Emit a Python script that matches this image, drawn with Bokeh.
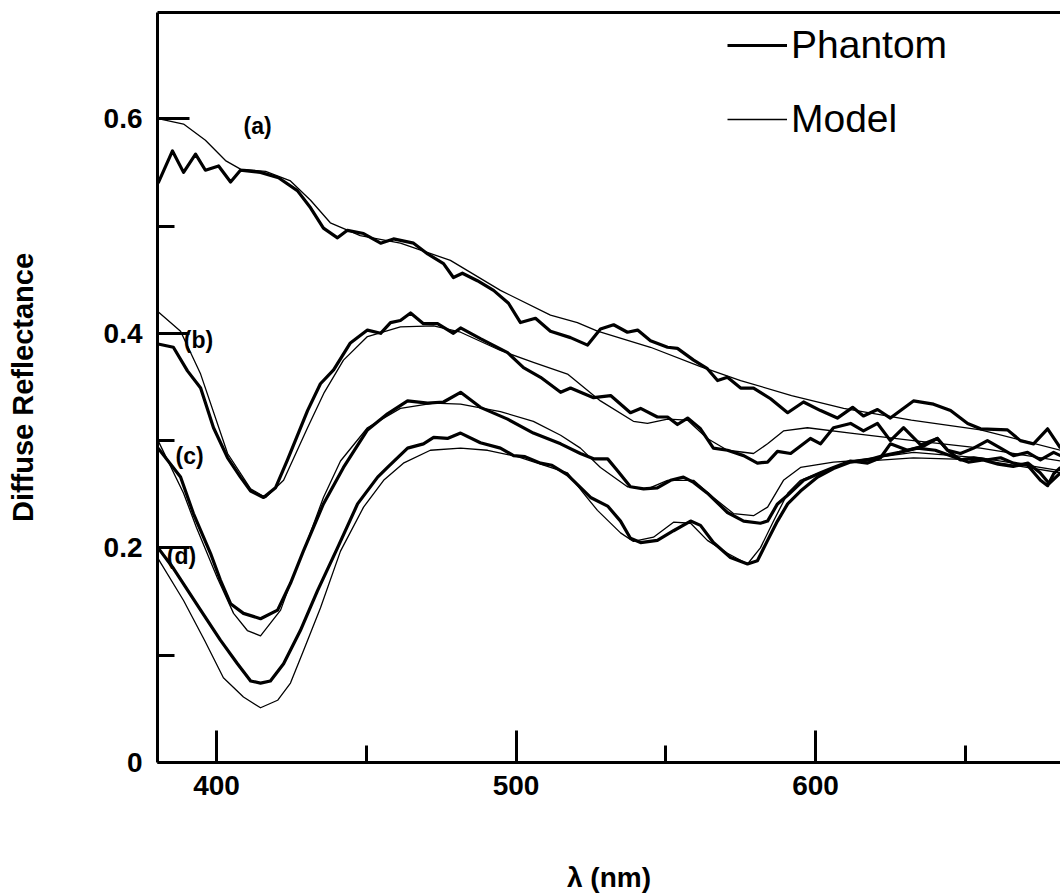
from bokeh.plotting import figure
from bokeh.models import Range1d, FixedTicker, LinearAxis, Legend, LegendItem
from bokeh.core.properties import value
from bokeh.embed import file_html
from bokeh.resources import INLINE

# ---------------- data (wavelength nm, diffuse reflectance) ----------------
phantom_a = [(380.5, 0.540), (385.3, 0.570), (389.0, 0.550), (393.0, 0.567), (396.3, 0.552),
             (400.7, 0.556), (404.7, 0.541), (408.0, 0.552), (414.7, 0.550), (420.7, 0.545),
             (427.0, 0.533), (431.4, 0.517), (435.7, 0.498), (440.4, 0.489), (443.7, 0.496),
             (449.1, 0.493), (454.8, 0.484), (459.1, 0.488), (465.8, 0.484), (470.5, 0.474),
             (475.8, 0.465), (479.1, 0.452), (482.1, 0.456), (487.1, 0.449), (492.5, 0.440),
             (497.5, 0.428), (501.5, 0.410), (506.5, 0.414), (511.5, 0.402), (518.2, 0.396),
             (523.9, 0.389), (528.2, 0.404), (532.6, 0.408), (537.2, 0.401), (540.6, 0.403),
             (544.9, 0.393), (550.6, 0.387), (553.9, 0.386), (559.3, 0.375), (563.9, 0.367),
             (567.3, 0.356), (570.6, 0.359), (575.0, 0.349), (579.3, 0.349), (585.0, 0.339),
             (590.7, 0.326), (596.0, 0.336), (601.7, 0.328), (607.3, 0.321), (612.4, 0.331),
             (616.0, 0.323), (620.7, 0.329), (625.0, 0.321), (632.7, 0.337), (639.4, 0.334),
             (645.1, 0.328), (650.8, 0.316), (655.1, 0.311), (664.1, 0.310), (668.4, 0.300),
             (672.8, 0.297), (677.5, 0.311), (681.8, 0.293)]

model_a = [(380.5, 0.600), (389.0, 0.595), (396.3, 0.580), (403.0, 0.561), (408.0, 0.553),
           (416.4, 0.551), (424.7, 0.542), (431.4, 0.524), (438.0, 0.503), (448.0, 0.491),
           (461.4, 0.484), (478.1, 0.468), (494.8, 0.440), (511.5, 0.417), (520.5, 0.410),
           (527.2, 0.402), (544.9, 0.387), (561.6, 0.369), (575.0, 0.356), (592.0, 0.342),
           (609.4, 0.330), (632.0, 0.319), (655.1, 0.310), (681.8, 0.291)]

phantom_b = [(380.5, 0.390), (385.6, 0.387), (390.3, 0.365), (394.7, 0.349), (399.0, 0.312),
             (403.7, 0.284), (408.0, 0.266), (411.4, 0.253), (415.7, 0.247), (419.7, 0.256),
             (423.7, 0.282), (430.4, 0.328), (434.7, 0.353), (439.1, 0.366), (444.7, 0.391),
             (450.4, 0.403), (454.8, 0.400), (458.1, 0.410), (461.4, 0.412), (464.8, 0.419),
             (469.1, 0.409), (473.8, 0.409), (479.1, 0.400), (481.5, 0.405), (488.1, 0.395),
             (497.2, 0.382), (502.5, 0.368), (508.2, 0.359), (514.9, 0.345), (518.2, 0.349),
             (525.9, 0.340), (531.6, 0.342), (538.2, 0.326), (541.6, 0.330), (547.2, 0.322),
             (550.6, 0.322), (553.9, 0.315), (557.3, 0.321), (561.6, 0.311), (565.9, 0.293),
             (570.6, 0.291), (576.0, 0.286), (580.6, 0.279), (584.0, 0.280), (587.3, 0.290),
             (591.7, 0.288), (598.3, 0.302), (601.7, 0.297), (606.0, 0.312), (611.7, 0.316),
             (616.0, 0.309), (620.7, 0.316), (625.0, 0.300), (629.4, 0.312), (635.1, 0.296),
             (640.7, 0.302), (644.1, 0.291), (648.4, 0.288), (652.8, 0.293), (657.4, 0.300),
             (661.8, 0.293), (666.1, 0.286), (670.8, 0.289), (675.1, 0.282), (679.5, 0.289),
             (681.8, 0.286)]

model_b = [(380.5, 0.420), (388.0, 0.402), (394.7, 0.362), (403.7, 0.288), (411.4, 0.255),
           (416.4, 0.247), (422.4, 0.263), (430.4, 0.312), (436.0, 0.345), (442.4, 0.375),
           (450.4, 0.397), (461.4, 0.406), (472.5, 0.407), (481.5, 0.401), (494.8, 0.384),
           (505.8, 0.373), (517.2, 0.362), (528.2, 0.337), (539.2, 0.318), (543.9, 0.316),
           (550.6, 0.320), (557.3, 0.319), (563.9, 0.302), (570.6, 0.291), (579.3, 0.288),
           (584.0, 0.297), (589.3, 0.309), (597.3, 0.312), (611.7, 0.307), (632.7, 0.300),
           (655.1, 0.293), (681.8, 0.281)]

phantom_c = [(380.5, 0.293), (388.0, 0.266), (392.3, 0.232), (398.0, 0.195), (401.3, 0.170),
             (404.7, 0.148), (409.0, 0.139), (414.7, 0.134), (420.4, 0.142), (424.7, 0.167),
             (429.0, 0.197), (435.7, 0.241), (442.4, 0.275), (450.4, 0.310), (457.1, 0.325),
             (463.8, 0.337), (470.5, 0.335), (475.8, 0.336), (481.5, 0.345), (488.1, 0.331),
             (497.2, 0.320), (505.8, 0.307), (514.9, 0.297), (521.5, 0.288), (525.9, 0.283),
             (530.6, 0.283), (533.9, 0.272), (538.2, 0.257), (542.6, 0.255), (547.2, 0.256),
             (551.6, 0.263), (555.9, 0.266), (559.3, 0.261), (563.9, 0.251), (570.6, 0.233),
             (576.0, 0.225), (581.6, 0.223), (584.0, 0.225), (587.3, 0.241), (590.7, 0.249),
             (596.0, 0.263), (601.7, 0.270), (606.0, 0.275), (611.7, 0.281), (617.4, 0.279),
             (621.7, 0.284), (625.0, 0.297), (630.7, 0.291), (636.1, 0.295), (640.7, 0.302),
             (644.1, 0.291), (648.4, 0.282), (652.8, 0.284), (657.4, 0.282), (661.8, 0.284),
             (666.1, 0.279), (670.8, 0.277), (675.1, 0.263), (677.5, 0.258), (679.5, 0.269),
             (681.8, 0.275)]

model_c = [(380.5, 0.300), (389.0, 0.251), (393.3, 0.219), (400.3, 0.172), (405.7, 0.139),
           (410.3, 0.123), (414.7, 0.118), (421.4, 0.142), (424.7, 0.167), (430.4, 0.207),
           (435.7, 0.247), (441.4, 0.281), (450.4, 0.312), (461.4, 0.330), (472.5, 0.335),
           (481.5, 0.334), (494.8, 0.327), (505.8, 0.318), (514.9, 0.305), (521.5, 0.293),
           (528.2, 0.275), (537.2, 0.257), (543.9, 0.255), (550.6, 0.263), (559.3, 0.263),
           (565.9, 0.247), (572.6, 0.232), (579.3, 0.230), (584.0, 0.238), (589.3, 0.263),
           (595.0, 0.275), (606.0, 0.280), (611.7, 0.281), (632.7, 0.289), (655.1, 0.284),
           (681.8, 0.272)]

phantom_d = [(380.5, 0.200), (385.6, 0.181), (394.7, 0.142), (401.3, 0.114), (407.0, 0.092),
             (411.4, 0.076), (414.7, 0.074), (418.0, 0.076), (422.4, 0.092), (428.0, 0.123),
             (433.7, 0.160), (440.4, 0.200), (447.1, 0.241), (453.8, 0.266), (457.1, 0.275),
             (463.8, 0.293), (469.1, 0.297), (472.5, 0.303), (477.1, 0.302), (481.5, 0.307),
             (488.1, 0.298), (494.8, 0.293), (499.2, 0.286), (503.0, 0.285), (508.2, 0.279),
             (512.0, 0.277), (517.2, 0.268), (524.9, 0.247), (530.6, 0.239), (534.9, 0.225),
             (538.2, 0.209), (541.6, 0.205), (547.2, 0.207), (552.6, 0.216), (558.3, 0.225),
             (561.6, 0.221), (565.9, 0.205), (571.6, 0.191), (577.3, 0.185), (580.6, 0.188),
             (584.0, 0.207), (587.3, 0.225), (590.7, 0.241), (595.0, 0.253), (600.7, 0.266),
             (606.0, 0.274), (611.7, 0.280), (617.4, 0.282), (622.7, 0.286), (628.0, 0.289),
             (634.0, 0.293), (640.0, 0.291), (646.0, 0.285), (651.0, 0.280), (656.0, 0.282),
             (661.0, 0.278), (666.0, 0.276), (671.0, 0.279), (675.0, 0.270), (678.0, 0.260),
             (681.8, 0.270)]

model_d = [(380.5, 0.190), (389.0, 0.151), (396.0, 0.114), (402.3, 0.079), (409.0, 0.061),
           (414.7, 0.051), (420.4, 0.058), (424.7, 0.074), (429.0, 0.104), (434.7, 0.144),
           (441.4, 0.197), (449.1, 0.238), (455.8, 0.263), (462.4, 0.279), (471.4, 0.291),
           (481.5, 0.293), (490.5, 0.291), (500.5, 0.285), (511.5, 0.275), (517.2, 0.270),
           (522.5, 0.251), (527.2, 0.235), (534.9, 0.214), (539.2, 0.206), (545.9, 0.210),
           (552.6, 0.224), (558.3, 0.223), (563.9, 0.207), (570.6, 0.195), (577.3, 0.185),
           (581.6, 0.200), (586.0, 0.225), (590.7, 0.251), (595.0, 0.263), (606.0, 0.275),
           (611.7, 0.280), (632.7, 0.284), (655.1, 0.282), (681.8, 0.270)]

curve_names = ["(a)", "(b)", "(c)", "(d)"]
y_ticks = [0, 0.2, 0.4, 0.6]
y_minor = [0.1, 0.3, 0.5]
x_ticks = [400, 500, 600]
x_minor = [450, 550, 650]

# ---------------- figure ----------------
FONT = "Liberation Sans"
p = figure(frame_width=903, frame_height=750,
           x_range=Range1d(380.3, 681.8), y_range=Range1d(0, 0.699),
           output_backend="svg", toolbar_location=None,
           min_border_left=157, min_border_right=0, min_border_top=12, min_border_bottom=133)
p.xgrid.visible = False
p.ygrid.visible = False
p.outline_line_color = None
p.background_fill_color = "white"
p.border_fill_color = "white"


def xs(c):
    return [t[0] for t in c]


def ys(c):
    return [t[1] for t in c]


phantom_renderers = []
model_renderers = []
for ph, mo in [(phantom_a, model_a), (phantom_b, model_b), (phantom_c, model_c), (phantom_d, model_d)]:
    model_renderers.append(p.line(xs(mo), ys(mo), line_color="black", line_width=1.3, line_join="round"))
    phantom_renderers.append(p.line(xs(ph), ys(ph), line_color="black", line_width=3.2, line_join="round"))

# curve labels
label_x = [413.7, 394.0, 391.0, 388.3]
label_y = [0.5935, 0.394, 0.286, 0.192]
p.text(x=label_x, y=label_y, text=curve_names, text_font=value(FONT), text_font_style="bold",
       text_font_size="23px", text_align="center", text_baseline="middle", text_color="black")

# axes
for ax in (p.xaxis[0], p.yaxis[0]):
    ax.axis_line_width = 3
    ax.axis_line_color = "black"
    ax.major_tick_line_width = 3
    ax.minor_tick_line_width = 3
    ax.major_tick_line_color = "black"
    ax.minor_tick_line_color = "black"
    ax.major_tick_in = 32
    ax.major_tick_out = 0
    ax.minor_tick_in = 17
    ax.minor_tick_out = 0
    ax.major_label_text_font = FONT
    ax.major_label_text_font_style = "bold"
    ax.major_label_text_font_size = "28px"
    ax.major_label_text_color = "black"
    ax.axis_label_text_font = FONT
    ax.axis_label_text_font_style = "bold"
    ax.axis_label_text_color = "black"

p.yaxis[0].ticker = FixedTicker(ticks=y_ticks, minor_ticks=y_minor)
p.yaxis[0].major_label_overrides = {0: "0", 0.2: "0.2", 0.4: "0.4", 0.6: "0.6"}
p.yaxis[0].major_label_standoff = 15
p.yaxis[0].axis_label = "Diffuse Reflectance"
p.yaxis[0].axis_label_text_font_size = "29px"
p.yaxis[0].axis_label_standoff = 62

p.xaxis[0].ticker = FixedTicker(ticks=x_ticks, minor_ticks=x_minor)
p.xaxis[0].major_label_standoff = 13
p.xaxis[0].axis_label = "λ (nm)"
p.xaxis[0].axis_label_text_font_size = "28px"
p.xaxis[0].axis_label_standoff = 64

top = LinearAxis(ticker=FixedTicker(ticks=[]), axis_line_width=3, axis_line_color="black",
                 major_tick_line_color=None, minor_tick_line_color=None,
                 major_label_text_font_size="0px", major_label_standoff=0)
p.add_layout(top, "above")

legend = Legend(items=[LegendItem(label="Phantom", renderers=[phantom_renderers[0]]),
                       LegendItem(label="Model", renderers=[model_renderers[0]])],
                location=(570, 621), background_fill_alpha=0, border_line_color=None,
                label_text_font=FONT, label_text_font_size="39px", label_text_color="black",
                glyph_width=60, glyph_height=42, label_height=42, spacing=30,
                padding=0, margin=0, label_standoff=4)
p.add_layout(legend)

open("out.html", "w").write(file_html(p, INLINE))
